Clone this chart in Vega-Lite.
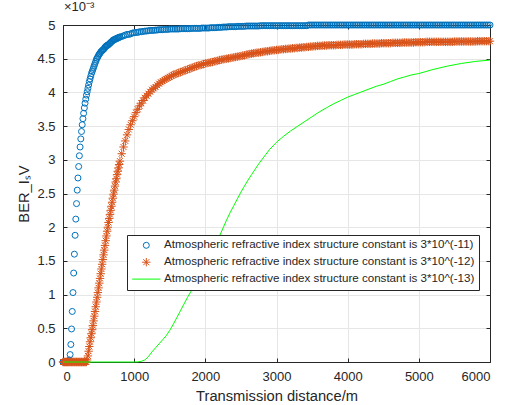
{
  "$schema": "https://vega.github.io/schema/vega-lite/v6.json",
  "width": 427,
  "height": 337,
  "autosize": {"type": "none"},
  "padding": {"left": 63, "top": 25, "right": 18, "bottom": 43},
  "background": "white",
  "config": {
    "view": {"stroke": null},
    "font": "Liberation Sans",
    "legend": {
      "orient": "none",
      "legendX": 64,
      "legendY": 210,
      "title": null,
      "labelFont": "Liberation Sans",
      "labelFontSize": 11.6,
      "labelColor": "#262626",
      "labelLimit": 0,
      "symbolSize": 36,
      "symbolStrokeWidth": 1,
      "symbolOpacity": 1,
      "symbolOffset": 9,
      "labelOffset": 12,
      "padding": 4.5,
      "rowPadding": 3.9,
      "strokeColor": "#262626",
      "fillColor": "#ffffff"
    }
  },
  "title": {"text": "×10⁻³", "anchor": "start", "frame": "group", "fontSize": 13, "fontWeight": "normal", "color": "#262626", "offset": 5, "dx": 1, "font": "Liberation Sans"},
  "datasets": {
    "series": [
      {"k": "b", "name": "Atmospheric refractive index structure constant is 3*10^(-11)"},
      {"k": "o", "name": "Atmospheric refractive index structure constant is 3*10^(-12)"}
    ],
    "curves": [
      {"d":0,"b":0,"o":0},{"d":10,"b":0,"o":0},{"d":20,"b":0,"o":0},{"d":30,"b":0,"o":0},{"d":40,"b":0,"o":0},
      {"d":50,"b":0,"o":0},{"d":60,"b":0,"o":0},{"d":70,"b":0,"o":0},{"d":80,"b":0.01,"o":0},{"d":90,"b":0.03,"o":0},
      {"d":100,"b":0.11,"o":0},{"d":110,"b":0.26,"o":0},{"d":120,"b":0.49,"o":0},{"d":130,"b":0.75,"o":0},{"d":140,"b":1.03,"o":0},
      {"d":150,"b":1.32,"o":0},{"d":160,"b":1.6,"o":0},{"d":170,"b":1.88,"o":0},{"d":180,"b":2.12,"o":0},{"d":190,"b":2.35,"o":0},
      {"d":200,"b":2.55,"o":0},{"d":210,"b":2.73,"o":0},{"d":220,"b":2.9,"o":0},{"d":230,"b":3.06,"o":0},{"d":240,"b":3.19,"o":0},
      {"d":250,"b":3.31,"o":0},{"d":260,"b":3.42,"o":0},{"d":270,"b":3.52,"o":0},{"d":280,"b":3.61,"o":0},{"d":290,"b":3.69,"o":0},
      {"d":300,"b":3.77,"o":0},{"d":310,"b":3.84,"o":0},{"d":320,"b":3.9,"o":0},{"d":330,"b":3.96,"o":0},{"d":340,"b":4.01,"o":0.03},
      {"d":350,"b":4.06,"o":0.09},{"d":360,"b":4.11,"o":0.16},{"d":370,"b":4.16,"o":0.23},{"d":380,"b":4.2,"o":0.3},{"d":390,"b":4.24,"o":0.36},
      {"d":400,"b":4.28,"o":0.42},{"d":410,"b":4.31,"o":0.48},{"d":420,"b":4.34,"o":0.54},{"d":430,"b":4.37,"o":0.61},{"d":440,"b":4.4,"o":0.68},
      {"d":450,"b":4.43,"o":0.75},{"d":460,"b":4.46,"o":0.82},{"d":470,"b":4.49,"o":0.89},{"d":480,"b":4.51,"o":0.96},{"d":490,"b":4.53,"o":1.03},
      {"d":500,"b":4.55,"o":1.1},{"d":510,"b":4.57,"o":1.17},{"d":520,"b":4.58,"o":1.24},{"d":530,"b":4.6,"o":1.31},{"d":540,"b":4.61,"o":1.38},
      {"d":550,"b":4.62,"o":1.45},{"d":560,"b":4.63,"o":1.52},{"d":570,"b":4.64,"o":1.59},{"d":580,"b":4.65,"o":1.66},{"d":590,"b":4.67,"o":1.73},
      {"d":600,"b":4.68,"o":1.8},{"d":610,"b":4.69,"o":1.87},{"d":620,"b":4.7,"o":1.94},{"d":630,"b":4.7,"o":2.0},{"d":640,"b":4.71,"o":2.07},
      {"d":650,"b":4.72,"o":2.13},{"d":660,"b":4.73,"o":2.19},{"d":670,"b":4.74,"o":2.25},{"d":680,"b":4.75,"o":2.31},{"d":690,"b":4.76,"o":2.37},
      {"d":700,"b":4.77,"o":2.43},{"d":710,"b":4.78,"o":2.49},{"d":720,"b":4.78,"o":2.55},{"d":730,"b":4.79,"o":2.61},{"d":740,"b":4.79,"o":2.67},
      {"d":750,"b":4.8,"o":2.72},{"d":760,"b":4.8,"o":2.78},{"d":770,"b":4.81,"o":2.83},{"d":780,"b":4.81,"o":2.88},{"d":790,"b":4.82,"o":2.93},
      {"d":800,"b":4.82,"o":2.98},
      {"d":825,"b":4.83,"o":3.09},{"d":850,"b":4.84,"o":3.19},{"d":875,"b":4.85,"o":3.28},{"d":900,"b":4.86,"o":3.37},{"d":925,"b":4.86,"o":3.45},
      {"d":950,"b":4.87,"o":3.52},{"d":975,"b":4.88,"o":3.58},{"d":1000,"b":4.885,"o":3.64},{"d":1025,"b":4.89,"o":3.7},{"d":1050,"b":4.89,"o":3.75},
      {"d":1075,"b":4.9,"o":3.8},{"d":1100,"b":4.9,"o":3.84},{"d":1125,"b":4.905,"o":3.88},{"d":1150,"b":4.91,"o":3.92},{"d":1175,"b":4.91,"o":3.95},
      {"d":1200,"b":4.915,"o":3.98},{"d":1225,"b":4.92,"o":4.01},{"d":1250,"b":4.92,"o":4.04},{"d":1275,"b":4.92,"o":4.06},{"d":1300,"b":4.925,"o":4.08},
      {"d":1325,"b":4.925,"o":4.105},{"d":1350,"b":4.93,"o":4.13},{"d":1375,"b":4.93,"o":4.15},{"d":1400,"b":4.93,"o":4.17},{"d":1425,"b":4.935,"o":4.185},
      {"d":1450,"b":4.935,"o":4.2},{"d":1475,"b":4.935,"o":4.215},{"d":1500,"b":4.94,"o":4.23},{"d":1525,"b":4.94,"o":4.245},{"d":1550,"b":4.94,"o":4.26},
      {"d":1575,"b":4.94,"o":4.27},{"d":1600,"b":4.94,"o":4.28},{"d":1625,"b":4.94,"o":4.29},{"d":1650,"b":4.945,"o":4.3},{"d":1675,"b":4.945,"o":4.31},
      {"d":1700,"b":4.945,"o":4.32},{"d":1725,"b":4.945,"o":4.33},{"d":1750,"b":4.945,"o":4.34},{"d":1775,"b":4.945,"o":4.35},{"d":1800,"b":4.95,"o":4.36},
      {"d":1825,"b":4.95,"o":4.37},{"d":1850,"b":4.95,"o":4.38},{"d":1875,"b":4.95,"o":4.39},{"d":1900,"b":4.95,"o":4.4},{"d":1925,"b":4.95,"o":4.405},
      {"d":1950,"b":4.955,"o":4.41},{"d":1975,"b":4.955,"o":4.42},{"d":2000,"b":4.955,"o":4.43},{"d":2025,"b":4.955,"o":4.435},{"d":2050,"b":4.955,"o":4.44},
      {"d":2075,"b":4.96,"o":4.445},{"d":2100,"b":4.96,"o":4.45},{"d":2125,"b":4.96,"o":4.46},{"d":2150,"b":4.96,"o":4.465},{"d":2175,"b":4.965,"o":4.47},
      {"d":2200,"b":4.965,"o":4.48},{"d":2225,"b":4.965,"o":4.485},{"d":2250,"b":4.97,"o":4.49},{"d":2275,"b":4.97,"o":4.495},{"d":2300,"b":4.97,"o":4.5},
      {"d":2325,"b":4.975,"o":4.505},{"d":2350,"b":4.975,"o":4.51},{"d":2375,"b":4.975,"o":4.515},{"d":2400,"b":4.975,"o":4.52},{"d":2425,"b":4.975,"o":4.525},
      {"d":2450,"b":4.98,"o":4.53},{"d":2475,"b":4.98,"o":4.535},{"d":2500,"b":4.98,"o":4.54},{"d":2525,"b":4.98,"o":4.545},{"d":2550,"b":4.98,"o":4.55},
      {"d":2575,"b":4.985,"o":4.56},{"d":2600,"b":4.985,"o":4.565},{"d":2625,"b":4.985,"o":4.57},{"d":2650,"b":4.985,"o":4.575},{"d":2675,"b":4.985,"o":4.58},
      {"d":2700,"b":4.985,"o":4.585},{"d":2725,"b":4.985,"o":4.59},{"d":2750,"b":4.985,"o":4.59},{"d":2775,"b":4.99,"o":4.595},{"d":2800,"b":4.99,"o":4.6},
      {"d":2825,"b":4.99,"o":4.605},{"d":2850,"b":4.99,"o":4.61},{"d":2875,"b":4.99,"o":4.61},{"d":2900,"b":4.99,"o":4.615},{"d":2925,"b":4.99,"o":4.62},
      {"d":2950,"b":4.99,"o":4.625},{"d":2975,"b":4.99,"o":4.625},{"d":3000,"b":4.99,"o":4.63},{"d":3025,"b":4.99,"o":4.63},{"d":3050,"b":4.99,"o":4.635},
      {"d":3075,"b":4.99,"o":4.64},{"d":3100,"b":4.99,"o":4.64},{"d":3125,"b":4.99,"o":4.645},{"d":3150,"b":4.99,"o":4.645},{"d":3175,"b":4.99,"o":4.65},
      {"d":3200,"b":4.99,"o":4.65},{"d":3225,"b":4.99,"o":4.655},{"d":3250,"b":4.99,"o":4.655},{"d":3275,"b":4.99,"o":4.66},{"d":3300,"b":4.99,"o":4.66},
      {"d":3325,"b":4.99,"o":4.665},{"d":3350,"b":4.99,"o":4.665},{"d":3375,"b":4.99,"o":4.67},{"d":3400,"b":4.99,"o":4.67},{"d":3425,"b":4.99,"o":4.675},
      {"d":3450,"b":5.0,"o":4.675},{"d":3475,"b":5.0,"o":4.68},{"d":3500,"b":5.0,"o":4.68},{"d":3525,"b":5.0,"o":4.685},{"d":3550,"b":5.0,"o":4.685},
      {"d":3575,"b":5.0,"o":4.69},{"d":3600,"b":5.0,"o":4.69},{"d":3625,"b":5.0,"o":4.69},{"d":3650,"b":5.0,"o":4.695},{"d":3675,"b":5.0,"o":4.695},
      {"d":3700,"b":5.0,"o":4.695},{"d":3725,"b":5.0,"o":4.7},{"d":3750,"b":5.0,"o":4.7},{"d":3775,"b":5.0,"o":4.7},{"d":3800,"b":5.0,"o":4.7},
      {"d":3825,"b":5.0,"o":4.7},{"d":3850,"b":5.0,"o":4.705},{"d":3875,"b":5.0,"o":4.705},{"d":3900,"b":5.0,"o":4.705},{"d":3925,"b":5.0,"o":4.705},
      {"d":3950,"b":5.0,"o":4.71},{"d":3975,"b":5.0,"o":4.71},{"d":4000,"b":5.0,"o":4.71},{"d":4025,"b":5.0,"o":4.71},{"d":4050,"b":5.0,"o":4.71},
      {"d":4075,"b":5.0,"o":4.71},{"d":4100,"b":5.0,"o":4.715},{"d":4125,"b":5.0,"o":4.715},{"d":4150,"b":5.0,"o":4.715},{"d":4175,"b":5.0,"o":4.715},
      {"d":4200,"b":5.0,"o":4.715},{"d":4225,"b":5.0,"o":4.72},{"d":4250,"b":5.0,"o":4.72},{"d":4275,"b":5.0,"o":4.72},{"d":4300,"b":5.0,"o":4.72},
      {"d":4325,"b":5.0,"o":4.72},{"d":4350,"b":5.0,"o":4.725},{"d":4375,"b":5.0,"o":4.725},{"d":4400,"b":5.0,"o":4.725},{"d":4425,"b":5.0,"o":4.725},
      {"d":4450,"b":5.0,"o":4.725},{"d":4475,"b":5.0,"o":4.73},{"d":4500,"b":5.0,"o":4.73},{"d":4525,"b":5.0,"o":4.73},{"d":4550,"b":5.0,"o":4.73},
      {"d":4575,"b":5.0,"o":4.73},{"d":4600,"b":5.0,"o":4.73},{"d":4625,"b":5.0,"o":4.735},{"d":4650,"b":5.0,"o":4.735},{"d":4675,"b":5.0,"o":4.735},
      {"d":4700,"b":5.0,"o":4.735},{"d":4725,"b":5.0,"o":4.735},{"d":4750,"b":5.0,"o":4.735},{"d":4775,"b":5.0,"o":4.74},{"d":4800,"b":5.0,"o":4.74},
      {"d":4825,"b":5.0,"o":4.74},{"d":4850,"b":5.0,"o":4.74},{"d":4875,"b":5.0,"o":4.74},{"d":4900,"b":5.0,"o":4.74},{"d":4925,"b":5.0,"o":4.74},
      {"d":4950,"b":5.0,"o":4.745},{"d":4975,"b":5.0,"o":4.745},{"d":5000,"b":5.0,"o":4.745},{"d":5025,"b":5.0,"o":4.745},{"d":5050,"b":5.0,"o":4.745},
      {"d":5075,"b":5.0,"o":4.745},{"d":5100,"b":5.0,"o":4.75},{"d":5125,"b":5.0,"o":4.75},{"d":5150,"b":5.0,"o":4.75},{"d":5175,"b":5.0,"o":4.75},
      {"d":5200,"b":5.0,"o":4.75},{"d":5225,"b":5.0,"o":4.75},{"d":5250,"b":5.0,"o":4.75},{"d":5275,"b":5.0,"o":4.75},{"d":5300,"b":5.0,"o":4.75},
      {"d":5325,"b":5.0,"o":4.75},{"d":5350,"b":5.0,"o":4.75},{"d":5375,"b":5.0,"o":4.75},{"d":5400,"b":5.0,"o":4.75},{"d":5425,"b":5.0,"o":4.75},
      {"d":5450,"b":5.0,"o":4.75},{"d":5475,"b":5.0,"o":4.75},{"d":5500,"b":5.0,"o":4.755},{"d":5525,"b":5.0,"o":4.755},{"d":5550,"b":5.0,"o":4.755},
      {"d":5575,"b":5.0,"o":4.755},{"d":5600,"b":5.0,"o":4.755},{"d":5625,"b":5.0,"o":4.755},{"d":5650,"b":5.0,"o":4.755},{"d":5675,"b":5.0,"o":4.755},
      {"d":5700,"b":5.0,"o":4.755},{"d":5725,"b":5.0,"o":4.755},{"d":5750,"b":5.0,"o":4.755},{"d":5775,"b":5.0,"o":4.755},{"d":5800,"b":5.0,"o":4.755},
      {"d":5825,"b":5.0,"o":4.76},{"d":5850,"b":5.0,"o":4.76},{"d":5875,"b":5.0,"o":4.76},{"d":5900,"b":5.0,"o":4.76},{"d":5925,"b":5.0,"o":4.76},
      {"d":5950,"b":5.0,"o":4.76},{"d":5975,"b":5.0,"o":4.76},{"d":6000,"b":5.0,"o":4.76}
    ],
    "green": [
      {"d":0,"g":0},{"d":500,"g":0},{"d":1000,"g":0},{"d":1050,"g":0.002},{"d":1100,"g":0.01},{"d":1150,"g":0.03},
      {"d":1200,"g":0.08},{"d":1250,"g":0.15},{"d":1300,"g":0.21},{"d":1350,"g":0.27},{"d":1400,"g":0.33},{"d":1450,"g":0.39},
      {"d":1500,"g":0.47},{"d":1550,"g":0.56},{"d":1600,"g":0.66},{"d":1650,"g":0.76},{"d":1700,"g":0.86},{"d":1750,"g":0.96},
      {"d":1800,"g":1.05},{"d":1850,"g":1.14},{"d":1900,"g":1.24},{"d":1950,"g":1.34},{"d":2000,"g":1.44},{"d":2050,"g":1.54},
      {"d":2100,"g":1.64},{"d":2150,"g":1.75},{"d":2200,"g":1.87},{"d":2250,"g":1.99},{"d":2300,"g":2.11},{"d":2350,"g":2.22},
      {"d":2400,"g":2.32},{"d":2450,"g":2.42},{"d":2500,"g":2.52},{"d":2550,"g":2.61},{"d":2600,"g":2.7},{"d":2650,"g":2.78},
      {"d":2700,"g":2.86},{"d":2750,"g":2.94},{"d":2800,"g":3.01},{"d":2850,"g":3.08},{"d":2900,"g":3.15},{"d":3000,"g":3.26},
      {"d":3100,"g":3.35},{"d":3200,"g":3.43},{"d":3300,"g":3.5},{"d":3400,"g":3.57},{"d":3500,"g":3.64},{"d":3600,"g":3.71},
      {"d":3700,"g":3.77},{"d":3800,"g":3.83},{"d":3900,"g":3.88},{"d":4000,"g":3.93},{"d":4100,"g":3.97},{"d":4200,"g":4.01},
      {"d":4300,"g":4.05},{"d":4400,"g":4.09},{"d":4500,"g":4.12},{"d":4600,"g":4.16},{"d":4700,"g":4.2},{"d":4800,"g":4.23},
      {"d":4900,"g":4.26},{"d":5000,"g":4.28},{"d":5200,"g":4.34},{"d":5400,"g":4.39},{"d":5600,"g":4.43},{"d":5800,"g":4.46},
      {"d":6000,"g":4.48}
    ]
  },
  "layer": [
    {
      "data": {"name": "curves"},
      "transform": [
        {"fold": ["b", "o"], "as": ["k", "v"]},
        {"lookup": "k", "from": {"data": {"name": "series"}, "key": "k", "fields": ["name"]}}
      ],
      "mark": {"type": "point", "filled": false, "size": 36, "strokeWidth": 1, "opacity": 1, "clip": false},
      "encoding": {
        "x": {
          "field": "d", "type": "quantitative",
          "scale": {"domain": [0, 6000], "nice": false, "zero": false},
          "axis": {
            "orient": "bottom", "values": [0, 1000, 2000, 3000, 4000, 5000, 6000], "format": "d",
            "title": "Transmission distance/m",
            "grid": true, "gridColor": "#e6e6e6", "gridWidth": 1,
            "domainColor": "#262626", "domainWidth": 1,
            "tickColor": "#262626", "tickSize": -4,
            "labelFont": "Liberation Sans", "labelFontSize": 13, "labelColor": "#262626", "labelPadding": 12,
            "titleFont": "Liberation Sans", "titleFontSize": 14.7, "titleFontWeight": "normal", "titleColor": "#262626", "titlePadding": 5
          }
        },
        "y": {
          "field": "v", "type": "quantitative",
          "scale": {"domain": [0, 5], "nice": false},
          "axis": {
            "orient": "left", "values": [0, 0.5, 1, 1.5, 2, 2.5, 3, 3.5, 4, 4.5, 5], "format": "~g",
            "title": "BER_IₛV",
            "grid": true, "gridColor": "#e6e6e6", "gridWidth": 1,
            "domainColor": "#262626", "domainWidth": 1,
            "tickColor": "#262626", "tickSize": -4,
            "labelFont": "Liberation Sans", "labelFontSize": 13, "labelColor": "#262626", "labelPadding": 12,
            "titleFont": "Liberation Sans", "titleFontSize": 14.7, "titleFontWeight": "normal", "titleColor": "#262626", "titlePadding": 5
          }
        },
        "color": {
          "field": "name", "type": "nominal",
          "scale": {
            "domain": [
              "Atmospheric refractive index structure constant is 3*10^(-11)",
              "Atmospheric refractive index structure constant is 3*10^(-12)",
              "Atmospheric refractive index structure constant is 3*10^(-13)"
            ],
            "range": ["#0072BD", "#D95319", "#00FF00"]
          }
        },
        "shape": {
          "field": "name", "type": "nominal",
          "scale": {
            "domain": [
              "Atmospheric refractive index structure constant is 3*10^(-11)",
              "Atmospheric refractive index structure constant is 3*10^(-12)",
              "Atmospheric refractive index structure constant is 3*10^(-13)"
            ],
            "range": [
              "circle",
              "M0,-1.4V1.4M-1.4,0H1.4M-1,-1L1,1M-1,1L1,-1",
              "M-4.7,0H4.7"
            ]
          }
        },
        "order": {"field": "k"}
      }
    },
    {
      "data": {"name": "green"},
      "mark": {"type": "line", "color": "#00FF00", "strokeWidth": 1},
      "encoding": {
        "x": {
          "field": "d", "type": "quantitative",
          "scale": {"domain": [0, 6000], "nice": false, "zero": false},
          "axis": {
            "orient": "top", "values": [0, 1000, 2000, 3000, 4000, 5000, 6000],
            "title": null, "labels": false, "grid": false,
            "domainColor": "#262626", "domainWidth": 1,
            "tickColor": "#262626", "tickSize": -4
          }
        },
        "y": {
          "field": "g", "type": "quantitative",
          "scale": {"domain": [0, 5], "nice": false},
          "axis": {
            "orient": "right", "values": [0, 0.5, 1, 1.5, 2, 2.5, 3, 3.5, 4, 4.5, 5],
            "title": null, "labels": false, "grid": false,
            "domainColor": "#262626", "domainWidth": 1,
            "tickColor": "#262626", "tickSize": -4
          }
        }
      }
    }
  ],
  "resolve": {"axis": {"x": "independent", "y": "independent"}}
}
